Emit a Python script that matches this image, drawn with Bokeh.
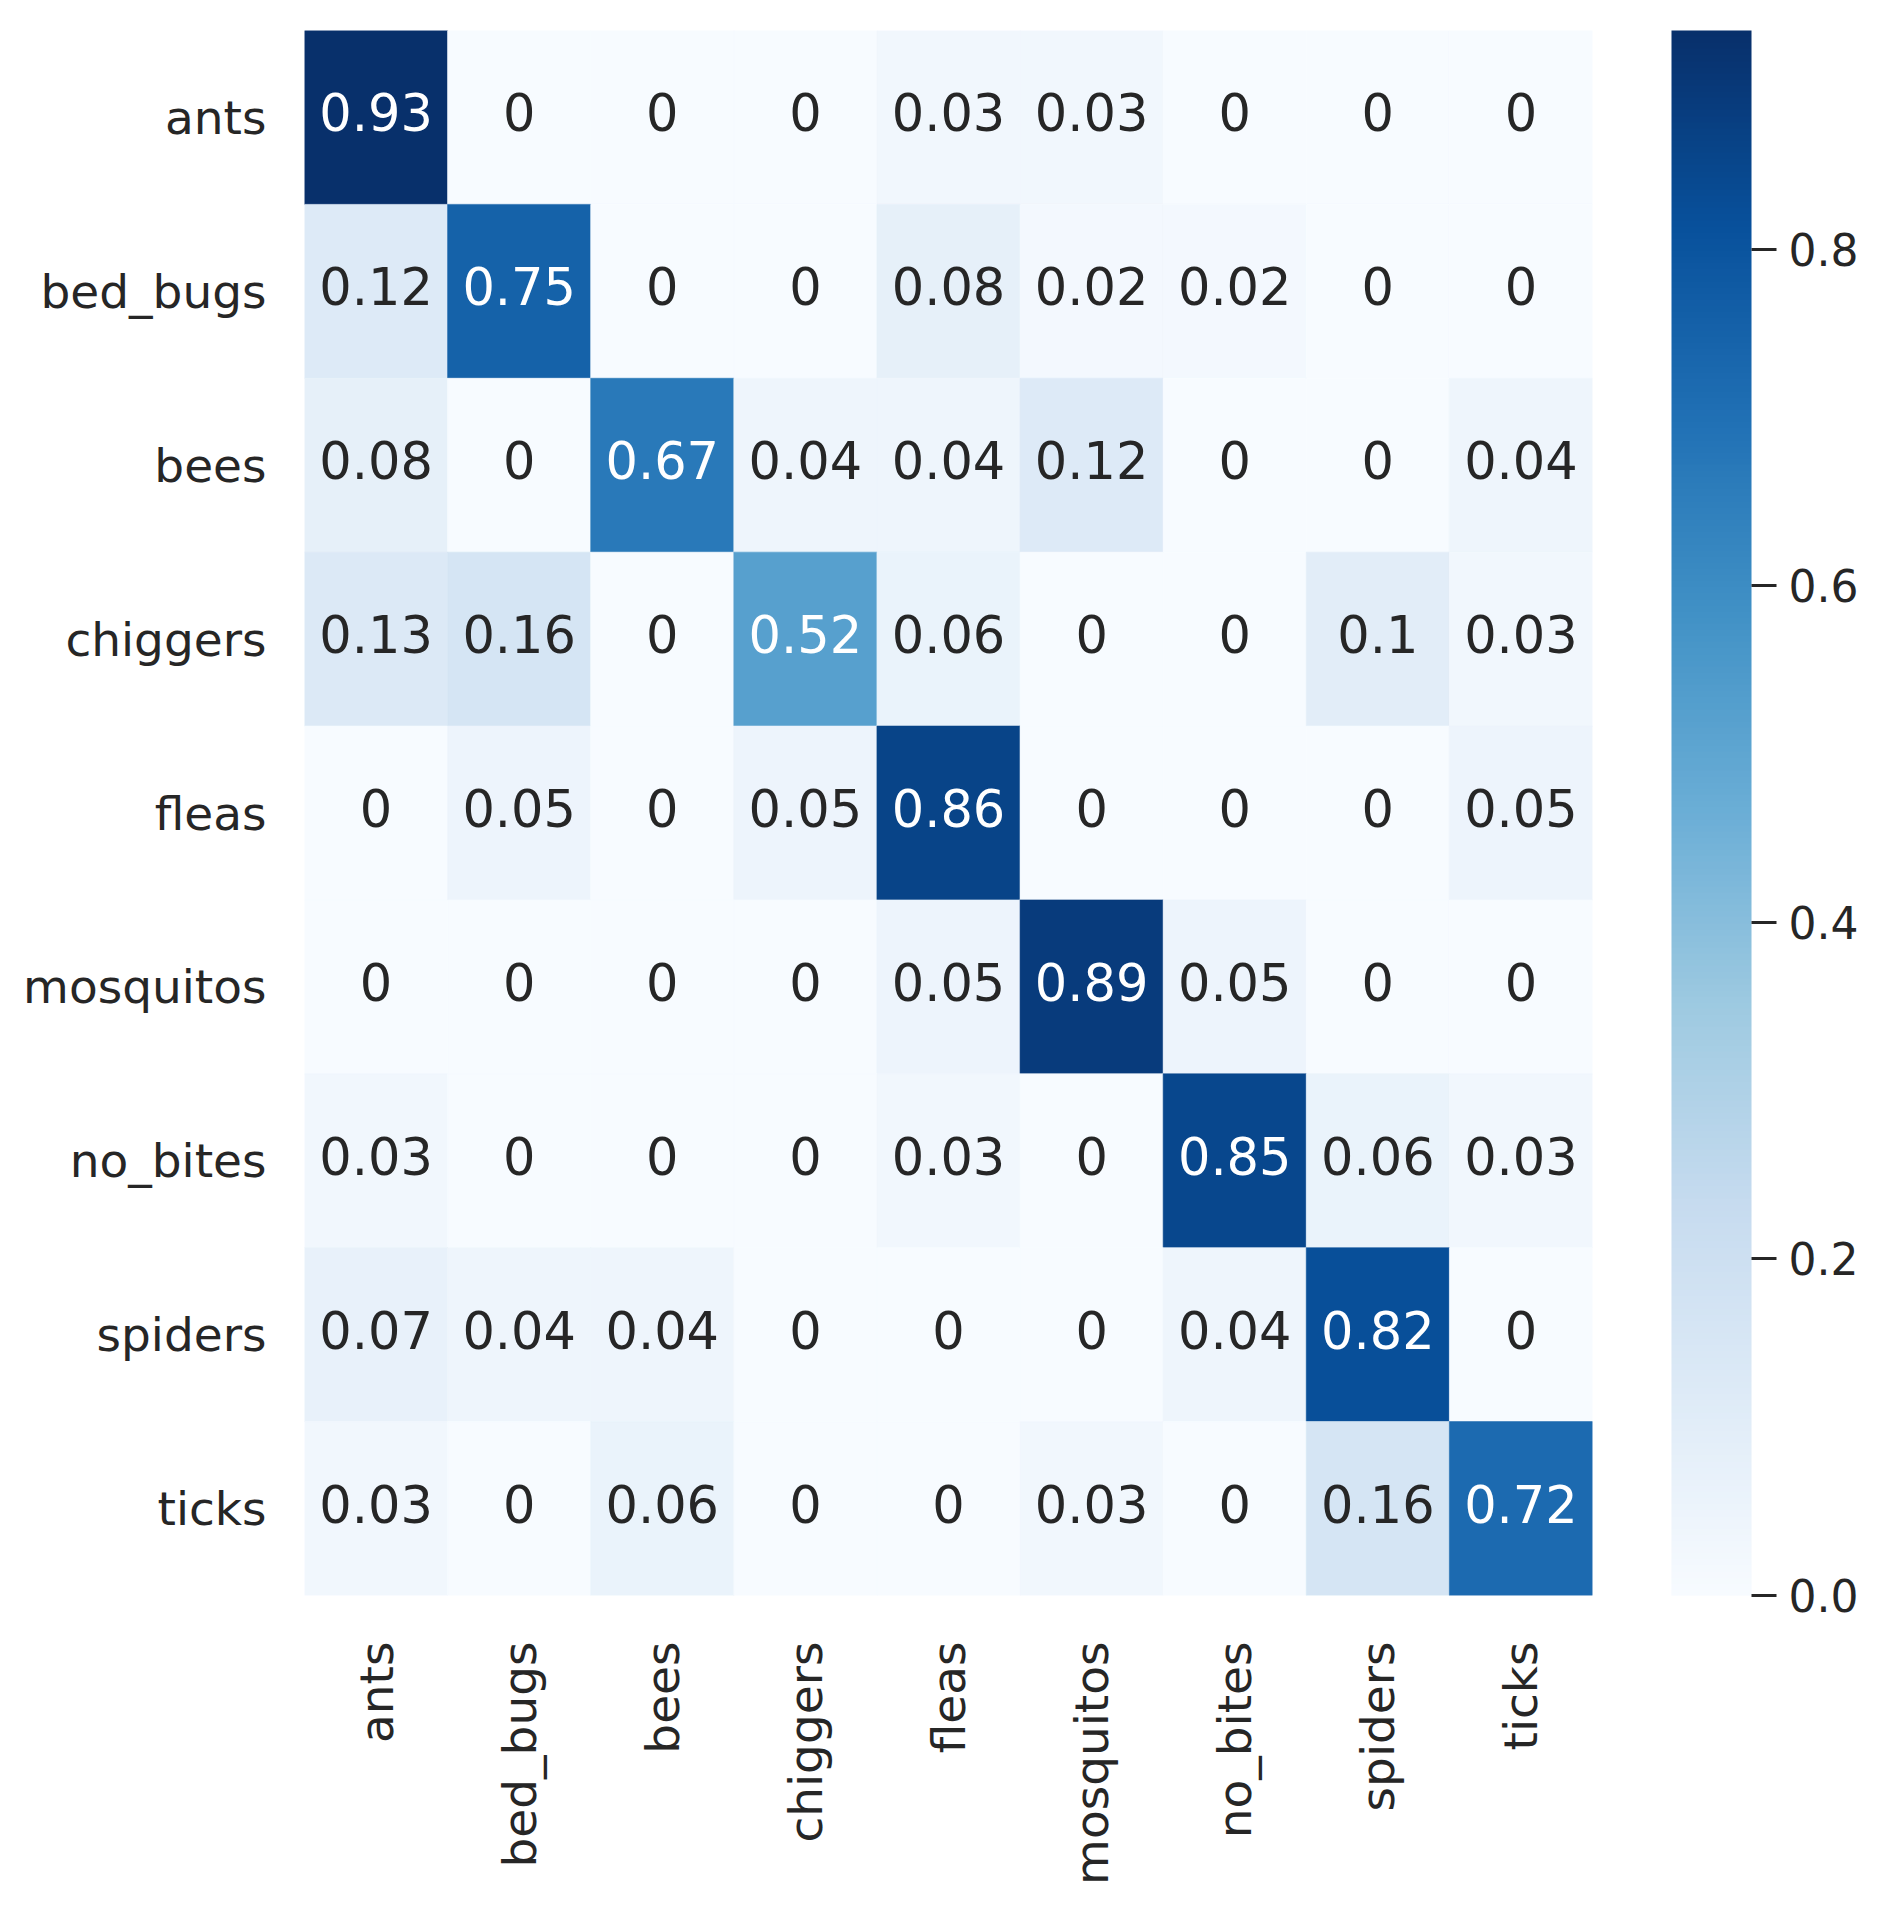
import math
from bokeh.plotting import figure
from bokeh.models import (ColumnDataSource, LinearColorMapper, ColorBar, FixedTicker,
                          PrintfTickFormatter, FactorRange)
from bokeh.transform import transform
from bokeh.palettes import Blues256
from bokeh.core.properties import value
from bokeh.embed import file_html
from bokeh.resources import INLINE

classes = ["ants", "bed_bugs", "bees", "chiggers", "fleas", "mosquitos", "no_bites", "spiders", "ticks"]

# rows = true class, columns = predicted class
row_ants      = [0.93, 0.00, 0.00, 0.00, 0.03, 0.03, 0.00, 0.00, 0.00]
row_bed_bugs  = [0.12, 0.75, 0.00, 0.00, 0.08, 0.02, 0.02, 0.00, 0.00]
row_bees      = [0.08, 0.00, 0.67, 0.04, 0.04, 0.12, 0.00, 0.00, 0.04]
row_chiggers  = [0.13, 0.16, 0.00, 0.52, 0.06, 0.00, 0.00, 0.10, 0.03]
row_fleas     = [0.00, 0.05, 0.00, 0.05, 0.86, 0.00, 0.00, 0.00, 0.05]
row_mosquitos = [0.00, 0.00, 0.00, 0.00, 0.05, 0.89, 0.05, 0.00, 0.00]
row_no_bites  = [0.03, 0.00, 0.00, 0.00, 0.03, 0.00, 0.85, 0.06, 0.03]
row_spiders   = [0.07, 0.04, 0.04, 0.00, 0.00, 0.00, 0.04, 0.82, 0.00]
row_ticks     = [0.03, 0.00, 0.06, 0.00, 0.00, 0.03, 0.00, 0.16, 0.72]

cbar_ticks = [0.0, 0.2, 0.4, 0.6, 0.8]

rows = [row_ants, row_bed_bugs, row_bees, row_chiggers, row_fleas,
        row_mosquitos, row_no_bites, row_spiders, row_ticks]

palette = list(Blues256[::-1])  # light -> dark
vmin = 0.0
vmax = max(max(r) for r in rows)


def lum(hexcol):
    r, g, b = (int(hexcol[i:i + 2], 16) / 255 for i in (1, 3, 5))
    def lin(c):
        return c / 12.92 if c <= 0.03928 else ((c + 0.055) / 1.055) ** 2.4
    return 0.2126 * lin(r) + 0.7152 * lin(g) + 0.0722 * lin(b)


xs, ys, vals, labels, tcolors = [], [], [], [], []
for true_cls, r in zip(classes, rows):
    for pred_cls, v in zip(classes, r):
        xs.append(pred_cls)
        ys.append(true_cls)
        vals.append(v)
        labels.append(f"{v:g}")
        idx = min(int((v - vmin) / (vmax - vmin) * len(palette)), len(palette) - 1)
        tcolors.append("#262626" if lum(palette[idx]) > 0.408 else "#ffffff")

src = ColumnDataSource(dict(x=xs, y=ys, v=vals, label=labels, tc=tcolors))

mapper = LinearColorMapper(palette=palette, low=vmin, high=vmax)

p = figure(x_range=FactorRange(factors=classes), y_range=FactorRange(factors=classes[::-1]),
           frame_width=1288, frame_height=1565,
           min_border_left=304, min_border_top=30, min_border_bottom=296, min_border_right=10,
           toolbar_location=None, tools="", output_backend="svg")

p.rect(x="x", y="y", width=1, height=1, source=src,
       fill_color=transform("v", mapper), line_color=transform("v", mapper), line_width=0.6)

p.text(x="x", y="y", text="label", source=src, text_align="center", text_baseline="middle",
       text_color="tc", text_font=value("DejaVu Sans"), text_font_size="51px", y_offset=-5)

p.outline_line_color = None
p.grid.grid_line_color = None
p.background_fill_color = "white"
p.border_fill_color = "white"

for ax in (p.xaxis[0], p.yaxis[0]):
    ax.axis_line_color = None
    ax.major_tick_line_color = None
    ax.minor_tick_line_color = None
    ax.major_tick_out = 0
    ax.major_tick_in = 0
    ax.major_label_text_font = "DejaVu Sans"
    ax.major_label_text_font_size = "47px"
    ax.major_label_text_color = "#262626"

p.yaxis[0].major_label_standoff = 38
p.xaxis[0].major_label_standoff = 46
p.xaxis[0].major_label_orientation = math.pi / 2

cb = ColorBar(color_mapper=mapper, ticker=FixedTicker(ticks=cbar_ticks),
              formatter=PrintfTickFormatter(format="%.1f"),
              width=80, height=1565, padding=0, margin=0,
              bar_line_color=None, border_line_color=None, background_fill_color="white",
              major_tick_in=0, major_tick_out=25, major_tick_line_color="#262626",
              major_tick_line_width=3, minor_tick_line_color=None,
              label_standoff=12,
              major_label_text_font="DejaVu Sans", major_label_text_font_size="44px",
              major_label_text_color="#262626", location=(79, 0))
p.add_layout(cb, "right")

open("out.html", "w").write(file_html(p, INLINE))
